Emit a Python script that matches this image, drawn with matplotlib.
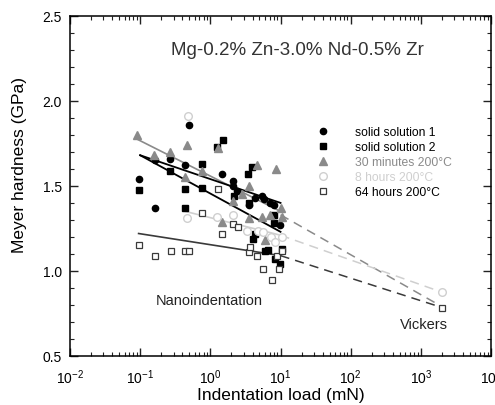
import matplotlib
matplotlib.use('Agg')
import matplotlib.pyplot as plt
from matplotlib.ticker import LogLocator, MultipleLocator, NullFormatter

plt.rcParams['font.family'] = ['Liberation Sans', 'DejaVu Sans']
plt.rcParams['mathtext.fontset'] = 'custom'
plt.rcParams['mathtext.rm'] = 'Liberation Sans'
plt.rcParams['mathtext.it'] = 'Liberation Sans'

# data (load in mN, hardness in GPa)
ss1_x = [0.095, 0.165, 0.165, 0.27, 0.44, 0.49, 1.47, 2.1, 2.1, 2.4, 3.5, 4.4, 5.5, 5.9, 7.0, 8.0, 9.9]
ss1_y = [1.54, 1.65, 1.37, 1.66, 1.62, 1.86, 1.57, 1.53, 1.50, 1.47, 1.385, 1.43, 1.44, 1.42, 1.40, 1.39, 1.27]

ss2_x = [0.095, 0.27, 0.44, 0.44, 0.76, 0.76, 1.25, 1.5, 2.2, 3.4, 3.9, 3.5, 4.1, 4.4, 6.1, 6.6, 8.0, 8.2, 8.4, 9.9, 10.5]
ss2_y = [1.475, 1.59, 1.48, 1.37, 1.63, 1.49, 1.73, 1.77, 1.44, 1.57, 1.61, 1.40, 1.19, 1.215, 1.12, 1.125, 1.28, 1.33, 1.07, 1.04, 1.13]

m30_x = [0.09, 0.155, 0.27, 0.47, 0.44, 0.76, 1.27, 1.47, 2.1, 2.8, 3.5, 3.6, 4.6, 5.5, 6.1, 7.0, 8.7, 10.0, 10.5]
m30_y = [1.80, 1.68, 1.70, 1.74, 1.55, 1.59, 1.72, 1.29, 1.41, 1.45, 1.31, 1.50, 1.62, 1.32, 1.18, 1.33, 1.60, 1.37, 1.32]

h8_x = [0.47, 0.48, 1.25, 2.1, 3.3, 4.8, 5.7, 7.2, 8.4, 10.5, 2000]
h8_y = [1.31, 1.91, 1.32, 1.33, 1.235, 1.235, 1.23, 1.20, 1.17, 1.20, 0.875]

h64_x = [0.097, 0.165, 0.275, 0.44, 0.50, 0.76, 1.29, 1.47, 2.08, 2.48, 3.5, 3.7, 4.6, 5.7, 7.6, 8.9, 9.4, 10.5, 2000]
h64_y = [1.15, 1.085, 1.115, 1.12, 1.12, 1.34, 1.48, 1.22, 1.275, 1.26, 1.11, 1.14, 1.09, 1.01, 0.945, 1.09, 1.01, 1.12, 0.785]

# fit lines over the nanoindentation range
ss1_fit_x, ss1_fit_y = [0.1, 10], [1.68, 1.40]
ss2_fit_x, ss2_fit_y = [0.1, 10], [1.68, 1.23]
m30_fit_x, m30_fit_y = [0.09, 10], [1.775, 1.35]
h8_fit_x, h8_fit_y = [0.44, 10], [1.35, 1.21]
h64_fit_x, h64_fit_y = [0.095, 10], [1.22, 1.09]

# dashed links to the Vickers values
m30_dash_x, m30_dash_y = [10, 2000], [1.33, 0.79]
h8_dash_x, h8_dash_y = [10, 2000], [1.21, 0.875]
h64_dash_x, h64_dash_y = [10, 2000], [1.09, 0.785]

labels = ['solid solution 1', 'solid solution 2', '30 minutes 200°C', '8 hours 200°C', '64 hours 200°C']

fig = plt.figure(figsize=(4.95, 4.06), dpi=100)
ax = fig.add_axes([0.1414, 0.1207, 0.8506, 0.838])

c_gray = '#8a8a8a'
c_light = '#cfcfcf'
c_dark = '#3a3a3a'

ax.plot(m30_fit_x, m30_fit_y, color=c_gray, lw=1.2)
ax.plot(h8_fit_x, h8_fit_y, color=c_light, lw=1.2)
ax.plot(h64_fit_x, h64_fit_y, color=c_dark, lw=1.2)
ax.plot(ss1_fit_x, ss1_fit_y, color='black', lw=1.3)
ax.plot(ss2_fit_x, ss2_fit_y, color='black', lw=1.3)

ax.plot(m30_dash_x, m30_dash_y, color=c_gray, lw=1.1, ls=(0, (6, 4)))
ax.plot(h8_dash_x, h8_dash_y, color=c_light, lw=1.1, ls=(0, (6, 4)))
ax.plot(h64_dash_x, h64_dash_y, color=c_dark, lw=1.1, ls=(0, (6, 4)))

h1, = ax.plot(ss1_x, ss1_y, 'o', color='black', ms=4.5, ls='none')
h2, = ax.plot(ss2_x, ss2_y, 's', color='black', ms=4.2, ls='none')
h3, = ax.plot(m30_x, m30_y, '^', color=c_gray, ms=5.5, ls='none')
h4, = ax.plot(h8_x, h8_y, 'o', mfc='white', mec=c_light, mew=1, ms=5.5, ls='none')
h5, = ax.plot(h64_x, h64_y, 's', mfc='white', mec=c_dark, mew=0.9, ms=4.5, ls='none')

ax.set_xscale('log')
ax.set_xlim(1e-2, 1e4)
ax.set_ylim(0.5, 2.5)
ax.xaxis.set_major_locator(LogLocator(base=10, numticks=10))
ax.xaxis.set_minor_locator(LogLocator(base=10, subs=range(2, 10), numticks=20))
ax.xaxis.set_minor_formatter(NullFormatter())
ax.yaxis.set_major_locator(MultipleLocator(0.5))
ax.yaxis.set_minor_locator(MultipleLocator(0.1))
ax.yaxis.set_major_formatter(plt.FormatStrFormatter('%.1f'))
ax.tick_params(which='both', direction='in', top=True, right=True, labelsize=10, color='#222222')
ax.tick_params(which='major', length=6, width=1)
ax.tick_params(which='minor', length=3, width=0.8)
ax.tick_params(axis='x', pad=8)
ax.tick_params(axis='y', pad=6)
for s in ax.spines.values():
    s.set_linewidth(1.1)

ax.set_xlabel('Indentation load (mN)', fontsize=12.5, labelpad=1)
ax.set_ylabel('Meyer hardness (GPa)', fontsize=12.5)
ax.yaxis.set_label_coords(-0.102, 0.565)

ax.text(0.54, 0.90, 'Mg-0.2% Zn-3.0% Nd-0.5% Zr', transform=ax.transAxes, ha='center', va='center', fontsize=13.5, color='#333333')
ax.text(0.33, 0.165, 'Nanoindentation', transform=ax.transAxes, ha='center', va='center', fontsize=10.5, color='#222222')
ax.text(0.84, 0.095, 'Vickers', transform=ax.transAxes, ha='center', va='center', fontsize=10.5, color='#222222')

leg = ax.legend([h1, h2, h3, h4, h5], labels, loc='upper left', bbox_to_anchor=(0.586, 0.676),
                frameon=False, fontsize=8.7, handlelength=1.0, handletextpad=2.2,
                labelspacing=0.25, borderpad=0, borderaxespad=0)
text_colors = ['black', 'black', c_gray, c_light, 'black']
for t, c in zip(leg.get_texts(), text_colors):
    t.set_color(c)

fig.savefig('out.png', dpi=100)
